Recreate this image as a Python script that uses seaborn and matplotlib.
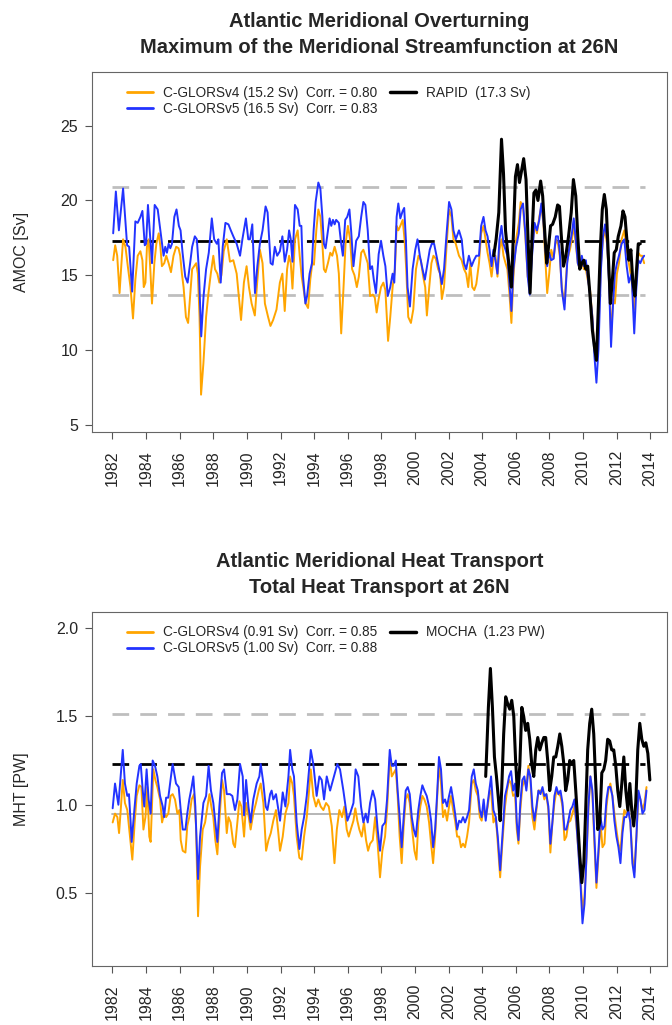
import numpy as np
import pandas as pd
import matplotlib
matplotlib.use('Agg')
import matplotlib.pyplot as plt
import seaborn as sns

# ---- AMOC at 26N (Sv) ----
amoc_v4_t = [1982.04, 1982.16, 1982.28, 1982.42, 1982.51, 1982.63, 1982.77, 1982.91, 1983.07, 1983.22,
             1983.36, 1983.50, 1983.66, 1983.78, 1983.86, 1983.96, 1984.05, 1984.15, 1984.25, 1984.35,
             1984.49, 1984.61, 1984.75, 1984.85, 1984.94, 1985.08, 1985.20, 1985.34, 1985.48, 1985.63,
             1985.79, 1985.93, 1986.03, 1986.13, 1986.23, 1986.37, 1986.50, 1986.62, 1986.74, 1986.86,
             1986.98, 1987.08, 1987.18, 1987.27, 1987.41, 1987.57, 1987.71, 1987.85, 1988.00, 1988.10,
             1988.24, 1988.36, 1988.48, 1988.62, 1988.80, 1988.99, 1989.19, 1989.39, 1989.65, 1989.82,
             1989.98, 1990.12, 1990.28, 1990.47, 1990.61, 1990.77, 1990.93, 1991.07, 1991.26, 1991.40,
             1991.56, 1991.76, 1991.96, 1992.11, 1992.25, 1992.39, 1992.51, 1992.61, 1992.71, 1992.86,
             1993.02, 1993.14, 1993.26, 1993.38, 1993.50, 1993.64, 1993.77, 1993.89, 1993.99, 1994.13,
             1994.25, 1994.37, 1994.49, 1994.58, 1994.68, 1994.82, 1994.96, 1995.08, 1995.22, 1995.36,
             1995.47, 1995.61, 1995.75, 1995.87, 1996.01, 1996.14, 1996.26, 1996.40, 1996.54, 1996.66,
             1996.80, 1996.93, 1997.05, 1997.19, 1997.33, 1997.49, 1997.61, 1997.72, 1997.84, 1997.98,
             1998.12, 1998.24, 1998.40, 1998.53, 1998.67, 1998.81, 1998.91, 1999.01, 1999.13, 1999.27,
             1999.38, 1999.48, 1999.60, 1999.76, 1999.90, 2000.06, 2000.21, 2000.35, 2000.49, 2000.61,
             2000.71, 2000.85, 2000.98, 2001.10, 2001.24, 2001.38, 2001.50, 2001.60, 2001.73, 2001.89,
             2002.03, 2002.17, 2002.29, 2002.43, 2002.62, 2002.78, 2002.92, 2003.05, 2003.17, 2003.29,
             2003.41, 2003.53, 2003.65, 2003.81, 2003.94, 2004.08, 2004.20, 2004.32, 2004.44, 2004.56,
             2004.67, 2004.79, 2004.91, 2005.03, 2005.15, 2005.27, 2005.39, 2005.50, 2005.62, 2005.74,
             2005.86, 2006.02, 2006.18, 2006.29, 2006.43, 2006.57, 2006.71, 2006.83, 2006.97, 2007.12,
             2007.26, 2007.40, 2007.52, 2007.64, 2007.76, 2007.87, 2007.99, 2008.11, 2008.25, 2008.39,
             2008.51, 2008.62, 2008.74, 2008.90, 2009.06, 2009.22, 2009.34, 2009.45, 2009.57, 2009.69,
             2009.81, 2009.93, 2010.05, 2010.17, 2010.28, 2010.42, 2010.56, 2010.68, 2010.80, 2010.92,
             2011.07, 2011.19, 2011.31, 2011.43, 2011.55, 2011.67, 2011.79, 2011.90, 2012.02, 2012.14,
             2012.30, 2012.46, 2012.60, 2012.73, 2012.89, 2013.05, 2013.17, 2013.29, 2013.41, 2013.52,
             2013.64]
amoc_v4 = [16.0, 17.0, 16.3, 13.8, 15.4, 17.4, 16.9, 15.6, 14.2, 12.1,
           14.7, 16.3, 16.6, 16.0, 14.2, 14.5, 16.9, 17.4, 15.4, 13.1,
           15.8, 17.1, 17.8, 16.9, 15.6, 15.8, 16.3, 15.8, 15.2, 16.3,
           16.9, 16.8, 16.3, 15.1, 14.2, 12.2, 11.8, 13.6, 15.4, 15.6,
           15.8, 15.1, 12.2, 7.0, 9.1, 12.2, 13.8, 15.1, 16.3, 15.4,
           15.1, 14.5, 15.0, 16.6, 17.4, 15.9, 16.0, 15.1, 12.0, 14.5,
           15.6, 14.2, 13.1, 12.3, 14.5, 16.7, 15.8, 13.1, 12.2, 11.6,
           12.0, 12.7, 14.5, 15.1, 12.6, 15.4, 16.3, 15.8, 14.1, 17.4,
           18.0, 16.3, 14.9, 14.0, 13.1, 12.8, 14.7, 15.8, 15.7, 18.0,
           19.4, 18.9, 17.1, 15.4, 15.2, 15.8, 16.5, 16.3, 16.9, 16.3,
           15.1, 11.1, 14.2, 17.1, 18.3, 17.4, 15.4, 15.0, 14.2, 14.9,
           16.5, 16.7, 16.3, 15.8, 13.6, 13.7, 13.5, 12.5, 13.4, 14.2,
           14.5, 14.0, 10.6, 12.2, 14.2, 15.4, 18.3, 18.0, 18.3, 18.7,
           17.4, 15.4, 12.2, 11.8, 12.7, 15.4, 16.3, 16.0, 14.9, 14.2,
           12.3, 14.2, 15.8, 16.3, 16.1, 15.4, 15.1, 13.4, 14.2, 17.1,
           19.4, 18.9, 17.4, 17.1, 16.3, 16.0, 15.4, 15.1, 14.2, 15.8,
           14.2, 14.0, 14.4, 15.8, 17.8, 18.3, 17.4, 16.5, 15.8, 14.9,
           16.0, 16.3, 14.9, 16.7, 17.4, 16.3, 15.8, 15.4, 13.8, 11.8,
           14.9, 17.4, 18.5, 19.9, 19.6, 17.6, 14.9, 14.2, 16.7, 18.3,
           17.8, 18.9, 19.6, 18.5, 16.0, 13.8, 15.1, 16.7, 16.1, 17.4,
           17.1, 16.3, 14.2, 13.1, 16.0, 16.7, 17.4, 18.3, 17.1, 15.8,
           15.4, 16.0, 15.4, 15.4, 14.7, 14.0, 12.2, 10.0, 9.3, 11.3,
           15.8, 17.4, 18.0, 17.1, 14.7, 10.9, 13.4, 13.1, 15.1, 15.8,
           17.4, 18.0, 16.7, 15.8, 14.7, 12.7, 14.9, 16.5, 16.3, 16.3,
           15.8]

amoc_v5_t = [1982.04, 1982.20, 1982.38, 1982.63, 1982.87, 1982.99, 1983.17, 1983.36, 1983.50, 1983.66,
             1983.78, 1983.92, 1984.00, 1984.11, 1984.35, 1984.51, 1984.69, 1984.85, 1985.04, 1985.14,
             1985.24, 1985.34, 1985.44, 1985.54, 1985.68, 1985.81, 1985.95, 1986.05, 1986.17, 1986.33,
             1986.47, 1986.62, 1986.74, 1986.90, 1987.02, 1987.14, 1987.28, 1987.42, 1987.57, 1987.73,
             1987.91, 1988.05, 1988.21, 1988.30, 1988.44, 1988.56, 1988.72, 1988.90, 1989.04, 1989.19,
             1989.39, 1989.59, 1989.73, 1989.94, 1990.08, 1990.18, 1990.32, 1990.48, 1990.62, 1990.77,
             1990.93, 1991.11, 1991.23, 1991.41, 1991.53, 1991.66, 1991.80, 1991.96, 1992.11, 1992.25,
             1992.39, 1992.51, 1992.61, 1992.71, 1992.86, 1993.02, 1993.14, 1993.24, 1993.34, 1993.48,
             1993.58, 1993.73, 1993.87, 1993.97, 1994.09, 1994.25, 1994.37, 1994.49, 1994.58, 1994.68,
             1994.82, 1994.92, 1995.02, 1995.12, 1995.22, 1995.31, 1995.47, 1995.61, 1995.71, 1995.85,
             1995.97, 1996.10, 1996.20, 1996.34, 1996.50, 1996.66, 1996.80, 1996.93, 1997.05, 1997.19,
             1997.33, 1997.45, 1997.55, 1997.68, 1997.84, 1997.98, 1998.12, 1998.24, 1998.38, 1998.53,
             1998.67, 1998.77, 1998.91, 1999.01, 1999.13, 1999.27, 1999.36, 1999.46, 1999.56, 1999.70,
             1999.86, 2000.02, 2000.15, 2000.29, 2000.45, 2000.59, 2000.75, 2000.88, 2001.00, 2001.14,
             2001.28, 2001.44, 2001.60, 2001.73, 2001.87, 2002.03, 2002.17, 2002.29, 2002.43, 2002.62,
             2002.78, 2002.92, 2003.05, 2003.21, 2003.37, 2003.51, 2003.65, 2003.81, 2003.94, 2004.08,
             2004.20, 2004.32, 2004.44, 2004.56, 2004.67, 2004.79, 2004.91, 2005.03, 2005.15, 2005.27,
             2005.39, 2005.50, 2005.62, 2005.74, 2005.86, 2006.02, 2006.18, 2006.29, 2006.43, 2006.57,
             2006.71, 2006.83, 2006.97, 2007.12, 2007.26, 2007.40, 2007.52, 2007.64, 2007.76, 2007.87,
             2007.99, 2008.11, 2008.25, 2008.39, 2008.51, 2008.62, 2008.74, 2008.90, 2009.06, 2009.22,
             2009.34, 2009.45, 2009.57, 2009.69, 2009.81, 2009.93, 2010.05, 2010.17, 2010.28, 2010.42,
             2010.56, 2010.68, 2010.80, 2010.92, 2011.07, 2011.19, 2011.31, 2011.43, 2011.55, 2011.67,
             2011.79, 2011.90, 2012.02, 2012.14, 2012.30, 2012.46, 2012.60, 2012.73, 2012.89, 2013.05,
             2013.17, 2013.29, 2013.41, 2013.52, 2013.64]
amoc_v5 = [17.8, 20.6, 18.0, 20.8, 17.0, 16.9, 13.9, 18.6, 18.5, 18.9,
           19.3, 17.0, 17.1, 19.7, 15.8, 19.7, 19.4, 18.0, 16.3, 16.9,
           16.5, 17.1, 16.8, 17.1, 18.9, 19.4, 18.3, 18.0, 16.5, 14.9,
           14.5, 15.8, 16.9, 17.6, 17.4, 15.4, 10.9, 13.6, 15.4, 16.5,
           18.8, 17.4, 17.1, 17.4, 14.5, 16.9, 18.5, 18.4, 18.0, 17.6,
           17.1, 16.3, 17.4, 18.8, 17.4, 17.4, 18.4, 13.8, 15.6, 17.1,
           18.0, 19.6, 19.2, 15.8, 15.7, 16.9, 16.3, 16.6, 17.6, 15.9,
           16.7, 18.0, 17.4, 15.9, 19.7, 19.4, 18.3, 18.3, 14.9, 13.1,
           13.6, 15.1, 15.8, 18.0, 19.9, 21.2, 20.8, 18.9, 17.1, 16.8,
           18.0, 18.8, 18.3, 18.7, 18.4, 18.7, 18.5, 17.1, 16.3, 18.7,
           18.9, 19.4, 18.0, 15.6, 17.3, 17.6, 18.9, 19.9, 19.7, 18.0,
           15.4, 15.6, 14.7, 13.8, 16.4, 17.3, 16.3, 15.6, 13.6, 14.2,
           15.1, 14.5, 18.9, 19.8, 18.8, 19.3, 19.5, 17.4, 14.2, 12.9,
           15.4, 16.7, 17.4, 16.3, 15.4, 14.7, 15.8, 16.7, 17.1, 17.1,
           16.3, 15.4, 14.4, 15.4, 17.6, 19.9, 19.4, 18.0, 17.4, 18.0,
           17.4, 15.8, 15.4, 16.3, 15.6, 16.0, 16.3, 16.3, 18.3, 18.9,
           18.0, 17.6, 16.7, 15.6, 16.7, 16.0, 15.1, 17.4, 18.3, 17.1,
           16.7, 16.3, 14.5, 12.6, 15.4, 16.9, 17.8, 19.4, 19.8, 17.8,
           14.9, 13.7, 16.3, 18.5, 18.0, 18.7, 19.8, 18.7, 16.7, 15.6,
           16.5, 16.0, 16.1, 17.6, 17.6, 16.5, 14.0, 12.7, 15.8, 17.1,
           17.8, 18.8, 17.4, 15.8, 15.4, 16.3, 15.6, 16.0, 14.9, 13.7,
           12.2, 9.6, 7.8, 10.0, 15.4, 17.6, 18.4, 17.4, 14.5, 10.2,
           13.1, 15.1, 15.8, 16.3, 17.1, 17.4, 15.6, 14.5, 15.1, 11.1,
           14.0, 16.0, 15.8, 16.1, 16.3]

rapid_t = [2004.69, 2004.83, 2004.99, 2005.15, 2005.27, 2005.39, 2005.50, 2005.62, 2005.74, 2005.86,
           2005.98, 2006.10, 2006.22, 2006.33, 2006.47, 2006.61, 2006.73, 2006.85, 2006.97, 2007.08,
           2007.20, 2007.32, 2007.48, 2007.60, 2007.72, 2007.84, 2007.95, 2008.07, 2008.19, 2008.35,
           2008.49, 2008.60, 2008.70, 2008.84, 2008.98, 2009.14, 2009.30, 2009.43, 2009.57, 2009.69,
           2009.81, 2009.93, 2010.05, 2010.17, 2010.28, 2010.42, 2010.56, 2010.68, 2010.80, 2010.92,
           2011.03, 2011.15, 2011.27, 2011.39, 2011.51, 2011.63, 2011.75, 2011.86, 2011.98, 2012.10,
           2012.26, 2012.38, 2012.50, 2012.61, 2012.73, 2012.85, 2012.97, 2013.09, 2013.19, 2013.29,
           2013.41]
rapid = [16.3, 17.4, 19.2, 24.1, 21.8, 18.0, 16.7, 15.4, 14.2, 17.8,
         21.6, 22.4, 21.2, 21.9, 22.8, 21.4, 17.4, 13.8, 17.6, 20.5,
         20.7, 20.0, 21.3, 20.3, 18.0, 15.8, 16.9, 18.3, 18.4, 18.9,
         19.7, 19.6, 17.8, 15.6, 16.3, 17.6, 19.2, 21.4, 20.3, 17.6,
         15.4, 15.8, 16.0, 15.4, 15.6, 13.6, 11.3, 10.2, 9.3, 13.1,
         16.7, 19.4, 20.4, 19.4, 16.3, 13.1, 14.7, 16.5, 16.7, 17.6,
         18.3, 19.3, 18.9, 17.4, 16.0, 16.7, 14.5, 13.6, 15.4, 17.1,
         17.1]

# ---- MHT at 26N (PW) ----
mht_v4_t = [1982.01, 1982.15, 1982.29, 1982.39, 1982.49, 1982.61, 1982.74, 1982.88, 1983.04, 1983.18,
            1983.32, 1983.44, 1983.60, 1983.72, 1983.84, 1983.96, 1984.07, 1984.19, 1984.27, 1984.43,
            1984.55, 1984.67, 1984.83, 1984.95, 1985.07, 1985.19, 1985.32, 1985.46, 1985.58, 1985.72,
            1985.86, 1985.98, 1986.06, 1986.18, 1986.34, 1986.45, 1986.57, 1986.71, 1986.85, 1986.97,
            1987.09, 1987.21, 1987.37, 1987.51, 1987.65, 1987.77, 1987.88, 1988.00, 1988.12, 1988.24,
            1988.36, 1988.52, 1988.64, 1988.80, 1988.90, 1989.03, 1989.19, 1989.29, 1989.43, 1989.55,
            1989.67, 1989.83, 1989.95, 1990.11, 1990.22, 1990.38, 1990.54, 1990.70, 1990.82, 1990.98,
            1991.14, 1991.28, 1991.42, 1991.57, 1991.73, 1991.87, 1991.97, 1992.13, 1992.29, 1992.47,
            1992.57, 1992.70, 1992.80, 1992.96, 1993.12, 1993.26, 1993.40, 1993.56, 1993.68, 1993.80,
            1993.95, 1994.11, 1994.25, 1994.39, 1994.55, 1994.71, 1994.87, 1995.05, 1995.21, 1995.35,
            1995.50, 1995.66, 1995.80, 1995.94, 1996.06, 1996.18, 1996.34, 1996.45, 1996.57, 1996.69,
            1996.83, 1996.97, 1997.09, 1997.21, 1997.33, 1997.49, 1997.63, 1997.78, 1997.92, 1998.06,
            1998.22, 1998.34, 1998.50, 1998.62, 1998.74, 1998.86, 1998.97, 1999.09, 1999.21, 1999.33,
            1999.45, 1999.57, 1999.69, 1999.81, 1999.97, 2000.09, 2000.20, 2000.32, 2000.44, 2000.56,
            2000.70, 2000.84, 2000.96, 2001.08, 2001.20, 2001.32, 2001.43, 2001.55, 2001.67, 2001.79,
            2001.91, 2002.03, 2002.15, 2002.27, 2002.39, 2002.51, 2002.63, 2002.74, 2002.86, 2002.98,
            2003.10, 2003.22, 2003.38, 2003.50, 2003.62, 2003.74, 2003.86, 2003.97, 2004.09, 2004.21,
            2004.33, 2004.45, 2004.53, 2004.67, 2004.81, 2004.93, 2005.07, 2005.20, 2005.36, 2005.48,
            2005.60, 2005.72, 2005.84, 2005.96, 2006.06, 2006.16, 2006.27, 2006.39, 2006.51, 2006.63,
            2006.75, 2006.87, 2006.99, 2007.11, 2007.23, 2007.35, 2007.47, 2007.59, 2007.70, 2007.82,
            2007.94, 2008.06, 2008.18, 2008.30, 2008.42, 2008.54, 2008.66, 2008.78, 2008.90, 2009.01,
            2009.13, 2009.25, 2009.37, 2009.49, 2009.61, 2009.73, 2009.85, 2009.97, 2010.09, 2010.21,
            2010.32, 2010.44, 2010.56, 2010.68, 2010.80, 2010.92, 2011.04, 2011.16, 2011.28, 2011.40,
            2011.51, 2011.63, 2011.75, 2011.87, 2011.99, 2012.11, 2012.23, 2012.35, 2012.46, 2012.58,
            2012.70, 2012.82, 2012.94, 2013.06, 2013.18, 2013.30, 2013.42, 2013.54, 2013.66, 2013.78]
mht_v4 = [0.90, 0.95, 0.93, 0.84, 0.97, 1.14, 1.01, 0.97, 0.82, 0.69,
          0.90, 1.05, 1.11, 1.10, 0.86, 0.93, 1.10, 0.82, 0.79, 1.20,
          1.14, 1.10, 1.03, 0.90, 0.95, 0.93, 0.95, 1.05, 1.06, 1.03,
          0.95, 0.97, 0.80, 0.74, 0.73, 0.88, 0.93, 1.03, 1.06, 0.88,
          0.37, 0.65, 0.86, 0.90, 0.99, 1.06, 0.99, 0.93, 0.80, 0.72,
          0.91, 1.14, 1.08, 0.84, 0.93, 0.90, 0.78, 0.76, 0.90, 1.02,
          0.99, 0.82, 1.01, 0.93, 0.86, 0.95, 1.01, 1.08, 1.12, 1.01,
          0.74, 0.80, 0.84, 0.91, 0.97, 0.84, 0.74, 0.82, 0.95, 1.01,
          1.16, 1.12, 1.05, 0.82, 0.70, 0.69, 0.82, 0.93, 1.06, 1.20,
          1.05, 0.99, 1.03, 0.99, 0.97, 1.01, 0.99, 0.88, 0.67, 0.86,
          0.97, 0.93, 0.99, 0.86, 0.82, 0.86, 0.91, 0.98, 0.91, 0.86,
          0.82, 0.90, 0.80, 0.74, 0.78, 0.80, 0.93, 0.78, 0.59, 0.74,
          0.82, 0.97, 1.27, 1.16, 1.18, 1.20, 1.05, 0.82, 0.67, 0.88,
          1.03, 1.06, 1.01, 0.88, 0.74, 0.69, 0.90, 0.99, 1.05, 1.03,
          0.99, 0.90, 0.78, 0.67, 0.82, 1.03, 1.23, 1.12, 0.93, 0.97,
          0.91, 0.99, 1.05, 0.97, 0.91, 0.82, 0.82, 0.76, 0.78, 0.76,
          0.82, 0.90, 1.12, 1.14, 1.08, 1.05, 0.93, 0.91, 0.99, 0.93,
          0.99, 1.08, 1.08, 0.90, 0.93, 0.78, 0.59, 0.78, 0.99, 1.08,
          1.14, 1.12, 1.05, 1.06, 0.86, 0.78, 0.97, 1.10, 1.14, 1.10,
          1.22, 1.14, 0.93, 0.86, 0.97, 1.08, 1.08, 1.08, 1.03, 1.06,
          0.97, 0.73, 0.90, 1.01, 1.08, 1.06, 1.05, 0.99, 0.80, 0.82,
          0.90, 0.91, 0.95, 0.99, 0.88, 0.74, 0.58, 0.41, 0.48, 0.71,
          0.97, 1.16, 1.06, 0.78, 0.53, 0.71, 0.90, 0.76, 0.78, 0.99,
          1.08, 1.12, 1.05, 0.95, 0.86, 0.78, 0.74, 0.88, 0.97, 0.95,
          0.97, 0.90, 0.71, 0.62, 0.82, 1.06, 1.03, 0.97, 1.01, 1.10]

mht_v5_t = [1982.01, 1982.15, 1982.35, 1982.61, 1982.74, 1982.88, 1982.98, 1983.08, 1983.14, 1983.30,
            1983.44, 1983.60, 1983.68, 1983.80, 1983.89, 1984.03, 1984.15, 1984.27, 1984.39, 1984.53,
            1984.67, 1984.83, 1984.99, 1985.07, 1985.19, 1985.32, 1985.48, 1985.58, 1985.78, 1985.94,
            1986.06, 1986.18, 1986.34, 1986.45, 1986.57, 1986.71, 1986.81, 1986.93, 1987.09, 1987.21,
            1987.41, 1987.57, 1987.72, 1987.86, 1988.00, 1988.12, 1988.24, 1988.36, 1988.52, 1988.64,
            1988.80, 1988.99, 1989.13, 1989.29, 1989.43, 1989.59, 1989.75, 1989.83, 1989.95, 1990.09,
            1990.22, 1990.38, 1990.58, 1990.74, 1990.82, 1990.98, 1991.12, 1991.22, 1991.38, 1991.47,
            1991.57, 1991.73, 1991.97, 1992.13, 1992.29, 1992.47, 1992.57, 1992.70, 1992.80, 1992.96,
            1993.12, 1993.26, 1993.40, 1993.56, 1993.68, 1993.80, 1993.95, 1994.15, 1994.31, 1994.45,
            1994.59, 1994.75, 1994.95, 1995.38, 1995.54, 1995.74, 1995.90, 1995.98, 1996.14, 1996.34,
            1996.47, 1996.63, 1996.79, 1996.93, 1997.07, 1997.19, 1997.33, 1997.49, 1997.63, 1997.78,
            1997.92, 1998.06, 1998.22, 1998.34, 1998.50, 1998.62, 1998.74, 1998.86, 1998.97, 1999.09,
            1999.21, 1999.33, 1999.45, 1999.57, 1999.69, 1999.81, 1999.93, 2000.05, 2000.20, 2000.32,
            2000.44, 2000.56, 2000.70, 2000.84, 2000.96, 2001.08, 2001.20, 2001.32, 2001.43, 2001.55,
            2001.67, 2001.79, 2001.91, 2002.03, 2002.15, 2002.27, 2002.39, 2002.51, 2002.63, 2002.74,
            2002.86, 2002.98, 2003.10, 2003.22, 2003.38, 2003.50, 2003.62, 2003.74, 2003.86, 2003.97,
            2004.09, 2004.21, 2004.33, 2004.45, 2004.53, 2004.67, 2004.81, 2004.93, 2005.07, 2005.20,
            2005.36, 2005.48, 2005.60, 2005.72, 2005.84, 2005.96, 2006.06, 2006.16, 2006.27, 2006.39,
            2006.51, 2006.63, 2006.75, 2006.87, 2006.99, 2007.11, 2007.23, 2007.35, 2007.47, 2007.59,
            2007.70, 2007.82, 2007.94, 2008.06, 2008.18, 2008.30, 2008.42, 2008.54, 2008.66, 2008.78,
            2008.90, 2009.01, 2009.13, 2009.25, 2009.37, 2009.49, 2009.61, 2009.73, 2009.85, 2009.97,
            2010.09, 2010.21, 2010.32, 2010.44, 2010.56, 2010.68, 2010.80, 2010.92, 2011.04, 2011.16,
            2011.28, 2011.40, 2011.51, 2011.63, 2011.75, 2011.87, 2011.99, 2012.11, 2012.23, 2012.35,
            2012.46, 2012.58, 2012.70, 2012.82, 2012.94, 2013.06, 2013.18, 2013.30, 2013.42, 2013.54,
            2013.66, 2013.78]
mht_v5 = [0.98, 1.12, 1.00, 1.31, 1.12, 1.05, 1.06, 0.90, 0.79, 0.97,
          1.12, 1.22, 1.23, 1.08, 0.99, 1.20, 1.03, 0.95, 1.25, 1.22,
          1.16, 1.05, 0.99, 0.93, 1.04, 1.04, 1.16, 1.23, 1.12, 1.10,
          0.97, 0.86, 0.86, 0.95, 1.03, 1.10, 1.16, 0.99, 0.58, 0.82,
          1.01, 1.05, 1.22, 1.08, 1.01, 0.90, 0.79, 0.99, 1.18, 1.20,
          1.06, 1.06, 1.05, 0.97, 1.03, 1.23, 1.16, 0.94, 1.14, 0.99,
          0.90, 1.03, 1.12, 1.16, 1.23, 1.12, 0.99, 0.97, 1.06, 1.08,
          1.03, 1.06, 0.91, 1.07, 0.99, 1.16, 1.31, 1.20, 1.16, 0.90,
          0.75, 0.86, 0.93, 1.05, 1.18, 1.31, 1.23, 1.05, 1.16, 1.14,
          1.03, 1.16, 1.08, 1.23, 1.20, 1.08, 0.97, 0.91, 0.95, 1.01,
          1.20, 1.16, 0.99, 0.90, 0.95, 0.90, 1.01, 1.08, 1.03, 0.86,
          0.74, 0.88, 0.90, 1.03, 1.31, 1.22, 1.22, 1.25, 1.08, 0.93,
          0.76, 0.93, 1.08, 1.10, 1.06, 0.93, 0.86, 0.82, 0.97, 1.05,
          1.11, 1.08, 1.05, 0.99, 0.91, 0.76, 0.86, 1.06, 1.27, 1.20,
          1.01, 1.03, 0.99, 1.05, 1.10, 1.03, 0.95, 0.86, 0.91, 0.90,
          0.93, 0.90, 0.93, 0.97, 1.16, 1.20, 1.12, 1.08, 0.97, 0.93,
          1.03, 0.91, 1.01, 1.10, 1.16, 0.97, 0.93, 0.82, 0.63, 0.82,
          1.05, 1.10, 1.16, 1.19, 1.08, 1.12, 0.90, 0.80, 1.01, 1.14,
          1.16, 1.08, 1.20, 1.16, 0.99, 0.91, 0.99, 1.08, 1.06, 1.10,
          1.05, 1.06, 0.99, 0.78, 0.90, 1.05, 1.10, 1.06, 1.08, 1.01,
          0.86, 0.86, 0.91, 0.97, 0.99, 1.03, 0.90, 0.73, 0.56, 0.33,
          0.44, 0.71, 0.99, 1.16, 1.08, 0.82, 0.56, 0.74, 0.93, 0.86,
          0.88, 1.03, 1.10, 1.10, 1.05, 0.91, 0.82, 0.76, 0.67, 0.84,
          0.93, 0.93, 0.97, 0.90, 0.67, 0.59, 0.82, 1.08, 1.03, 0.95,
          0.97, 1.08]

mocha_t = [2004.21, 2004.29, 2004.37, 2004.49, 2004.61, 2004.73, 2004.85, 2004.97, 2005.07, 2005.16,
           2005.28, 2005.40, 2005.52, 2005.64, 2005.76, 2005.88, 2005.99, 2006.11, 2006.24, 2006.36,
           2006.47, 2006.59, 2006.71, 2006.83, 2006.95, 2007.07, 2007.19, 2007.31, 2007.43, 2007.55,
           2007.67, 2007.78, 2007.90, 2008.02, 2008.14, 2008.26, 2008.38, 2008.50, 2008.62, 2008.74,
           2008.86, 2008.97, 2009.09, 2009.21, 2009.33, 2009.45, 2009.57, 2009.69, 2009.81, 2009.93,
           2010.05, 2010.16, 2010.28, 2010.40, 2010.52, 2010.64, 2010.76, 2010.88, 2011.00, 2011.12,
           2011.24, 2011.35, 2011.47, 2011.59, 2011.71, 2011.83, 2011.95, 2012.07, 2012.19, 2012.31,
           2012.43, 2012.55, 2012.67, 2012.79, 2012.90, 2013.02, 2013.14, 2013.26, 2013.38, 2013.50,
           2013.62, 2013.74, 2013.86, 2013.98]
mocha = [1.16, 1.35, 1.55, 1.77, 1.55, 1.27, 1.16, 1.03, 0.91, 1.08,
         1.40, 1.61, 1.57, 1.54, 1.59, 1.50, 1.25, 1.05, 1.22, 1.55,
         1.50, 1.42, 1.46, 1.37, 1.23, 1.16, 1.31, 1.38, 1.31, 1.35,
         1.38, 1.38, 1.25, 1.08, 1.16, 1.27, 1.27, 1.33, 1.40, 1.33,
         1.23, 1.08, 1.14, 1.25, 1.23, 1.25, 1.08, 0.90, 0.71, 0.56,
         0.67, 0.97, 1.31, 1.46, 1.54, 1.40, 1.12, 0.86, 0.90, 1.18,
         1.20, 1.25, 1.37, 1.36, 1.31, 1.31, 1.22, 1.08, 0.99, 1.12,
         1.27, 1.08, 0.97, 1.12, 0.97, 0.88, 1.01, 1.31, 1.46, 1.37,
         1.33, 1.35, 1.29, 1.14]

amoc_lines = [17.3, 20.9, 13.7]   # RAPID mean, +/- 2 std
mht_lines = [1.23, 1.51, 0.95]    # MOCHA mean, +/- 2 std

amoc_labels = ['C-GLORSv4 (15.2 Sv)  Corr. = 0.80', 'C-GLORSv5 (16.5 Sv)  Corr. = 0.83', 'RAPID  (17.3 Sv)']
mht_labels = ['C-GLORSv4 (0.91 Sv)  Corr. = 0.85', 'C-GLORSv5 (1.00 Sv)  Corr. = 0.88', 'MOCHA  (1.23 PW)']
years = list(range(1982, 2015, 2))

ORANGE = '#ffa500'
BLUE = '#2233ff'

sns.set_style('ticks')
plt.rcParams['font.family'] = ['Liberation Sans', 'DejaVu Sans']

fig = plt.figure(figsize=(6.72, 10.25), dpi=100)
W, H = 672, 1025
ax1 = fig.add_axes([92 / W, 1 - 432 / H, 575 / W, 360 / H])
ax2 = fig.add_axes([92 / W, 1 - 966 / H, 575 / W, 354 / H])


def panel(ax, v4t, v4, v5t, v5, obst, obs, hlines, labels, title, ylabel, ylim, yticks, lower_dashed):
    x0, x1 = 1982.0, 2013.7
    ax.plot([x0, x1], [hlines[1]] * 2, color='#bebebe', lw=2, ls=(0, (6, 4)), zorder=1)
    if lower_dashed:
        ax.plot([x0, x1], [hlines[2]] * 2, color='#bebebe', lw=2, ls=(0, (6, 4)), zorder=1)
    else:
        ax.plot([x0, x1], [hlines[2]] * 2, color='#b0b0b0', lw=1.3, zorder=1)
    ax.plot([x0, x1], [hlines[0]] * 2, color='black', lw=2, ls=(0, (6, 4)), zorder=2)

    sns.lineplot(x=v4t, y=v4, ax=ax, color=ORANGE, lw=1.4, estimator=None, sort=False, zorder=3)
    sns.lineplot(x=v5t, y=v5, ax=ax, color=BLUE, lw=1.4, estimator=None, sort=False, zorder=4)
    sns.lineplot(x=obst, y=obs, ax=ax, color='black', lw=2.2, estimator=None, sort=False, zorder=5)

    ax.set_xlim(1980.78, 2015.0)
    ax.set_ylim(*ylim)
    ax.set_xticks(years)
    ax.set_xticklabels([str(y) for y in years], rotation=90, fontsize=11.5)
    ax.set_yticks(yticks)
    ax.set_yticklabels([str(t) for t in yticks], fontsize=11.5)
    ax.tick_params(axis='x', direction='out', length=5, width=0.8, color='#555555', pad=8)
    ax.tick_params(axis='y', direction='out', length=5, width=0.8, color='#555555', pad=5)
    for s in ax.spines.values():
        s.set_color('#666666')
        s.set_linewidth(0.8)
    ax.set_ylabel(ylabel, fontsize=11.5)
    ax.yaxis.set_label_coords(-0.11, 0.5)
    ax.set_xlabel('')
    ax.set_title(title, fontsize=14.5, fontweight='bold', pad=14, linespacing=1.42)

    handles = [plt.Line2D([], [], color=ORANGE, lw=2),
               plt.Line2D([], [], color=BLUE, lw=2),
               plt.Line2D([], [], color='black', lw=2.5)]
    ax.legend(handles, labels, loc='upper left', bbox_to_anchor=(0.0615, 0.962), ncol=2, frameon=False,
              fontsize=9.8, handlelength=1.9, handletextpad=0.75, columnspacing=0.9, labelspacing=0.15,
              borderpad=0, borderaxespad=0)


panel(ax1, amoc_v4_t, amoc_v4, amoc_v5_t, amoc_v5, rapid_t, rapid, amoc_lines, amoc_labels,
      'Atlantic Meridional Overturning\nMaximum of the Meridional Streamfunction at 26N',
      'AMOC [Sv]', (4.5, 28.6), [5, 10, 15, 20, 25], True)
panel(ax2, mht_v4_t, mht_v4, mht_v5_t, mht_v5, mocha_t, mocha, mht_lines, mht_labels,
      'Atlantic Meridional Heat Transport\nTotal Heat Transport at 26N',
      'MHT [PW]', (0.089, 2.089), [0.5, 1.0, 1.5, 2.0], False)

fig.savefig('out.png', dpi=100)
